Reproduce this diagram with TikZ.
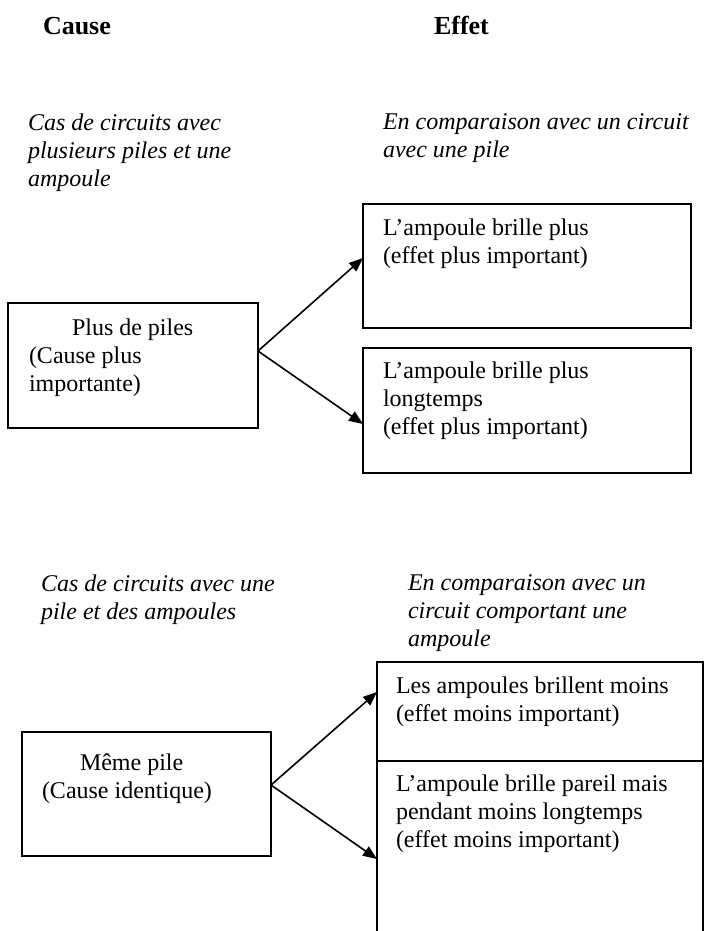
\documentclass[tikz,border=0pt]{standalone}
\usepackage{fontspec}
\setmainfont{Liberation Serif}
\usetikzlibrary{arrows.meta}
\begin{document}
\begin{tikzpicture}[x=0.5pt,y=-0.5pt,
  box/.style={draw, line width=1pt, inner sep=0pt, outer sep=0pt, anchor=north west},
  edge/.style={line width=1pt},
  txt/.style={anchor=north west, inner sep=0pt, outer sep=0pt, align=left,
              font=\fontsize{12}{14}\selectfont, execute at begin node=\strut},
  itxt/.style={txt, font=\fontsize{12}{14}\selectfont\itshape},
  head/.style={txt, font=\fontsize{13}{15}\selectfont\bfseries},
  arr/.style={-{Triangle[length=7pt,width=5.5pt]}, line width=0.8pt}]
\useasboundingbox (0,0) rectangle (704,931);

% headings
\node[head] (hcause) at (43,14) {Cause};
\node[head] (heffet) at (434,14) {Effet};

% first case
\node[itxt] (cas1) at (28,113.4) {Cas de circuits avec\\plusieurs piles et une\\ampoule};
\node[itxt] (cmp1) at (383,113.4) {En comparaison avec un circuit\\avec une pile};

\node[box, minimum width=125pt, minimum height=62.5pt] (c1) at (8,303) {};
\node[txt] (c1t) at (29,318.4) {\hspace*{21.5pt}Plus de piles\\(Cause plus\\importante)};

\node[box, minimum width=164pt, minimum height=62pt] (e1) at (363,204) {};
\node[txt] (e1t) at (383,218.4) {L’ampoule brille plus\\(effet plus important)};

\node[box, minimum width=164pt, minimum height=62.5pt] (e2) at (363,348) {};
\node[txt] (e2t) at (383,361.4) {L’ampoule brille plus\\longtemps\\(effet plus important)};

\coordinate (o1) at (258,351);
\coordinate (t1) at (363,258);
\coordinate (t2) at (363,424);
\draw[arr] (o1) -- (t1);
\draw[arr] (o1) -- (t2);

% second case
\node[itxt] (cas2) at (41,574.4) {Cas de circuits avec une\\pile et des ampoules};
\node[itxt] (cmp2) at (408,574.4) {En comparaison avec un\\circuit comportant une\\ampoule};

\node[box, minimum width=163pt, minimum height=49.5pt] (e3) at (377,662) {};
\node[txt] (e3t) at (396,676.4) {Les ampoules brillent moins\\(effet moins important)};

\node[box, minimum width=124.5pt, minimum height=62pt] (c2) at (22,732) {};
\node[txt] (c2t) at (42,753.4) {\hspace*{19pt}Même pile\\(Cause identique)};

\coordinate (b3) at (377,934);
\coordinate (b4) at (703,934);
\draw[edge] (e3.north west) -- (b3);
\draw[edge] (e3.north east) -- (b4);
\node[txt] (e4t) at (396,774.4) {L’ampoule brille pareil mais\\pendant moins longtemps\\(effet moins important)};

\coordinate (o2) at (271,785);
\coordinate (t3) at (377,692);
\coordinate (t4) at (377,859);
\draw[arr] (o2) -- (t3);
\draw[arr] (o2) -- (t4);
\end{tikzpicture}
\end{document}
